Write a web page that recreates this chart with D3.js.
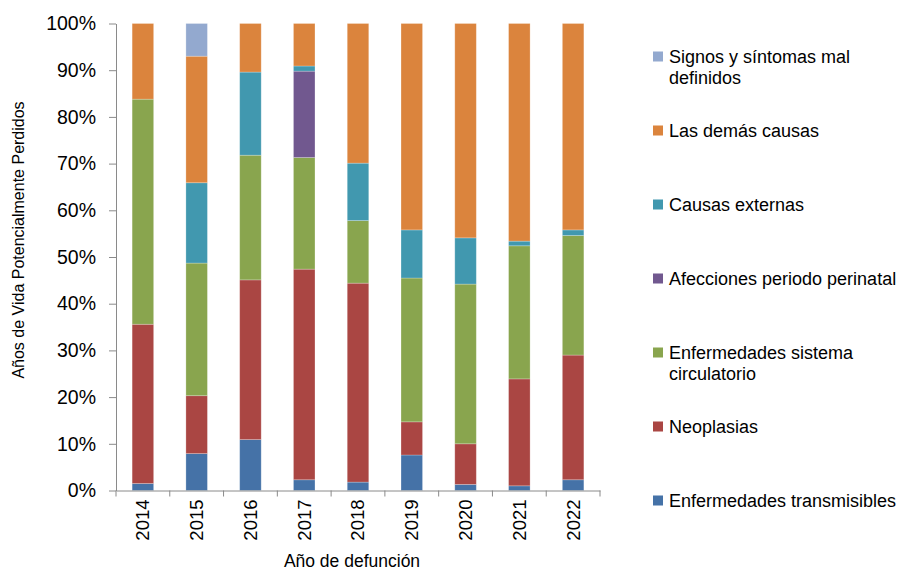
<!DOCTYPE html>
<html>
<head>
<meta charset="utf-8">
<script src="https://cdn.jsdelivr.net/npm/d3@7"></script>
<style>
  html, body { margin: 0; padding: 0; background: #fff; }
  svg { display: block; font-family: "Liberation Sans", Arial, sans-serif; }
</style>
</head>
<body>
<svg id="chart" width="899" height="571"></svg>
<script>
// Años de defunción
const years = ["2014", "2015", "2016", "2017", "2018", "2019", "2020", "2021", "2022"];

// Porcentaje de años de vida potencialmente perdidos por grupo de causas
const transmisibles = [1.5, 7.9, 10.9, 2.3, 1.8, 7.6, 1.3, 1.0, 2.3];
const neoplasias    = [34.1, 12.4, 34.2, 45.1, 42.6, 7.1, 8.7, 22.9, 26.7];
const circulatorio  = [48.2, 28.4, 26.7, 23.9, 13.4, 30.8, 34.2, 28.5, 25.6];
const perinatal     = [0, 0, 0, 18.5, 0, 0, 0, 0, 0];
const externas      = [0, 17.2, 17.8, 1.1, 12.3, 10.3, 9.9, 1.0, 1.2];
const demas         = [16.2, 27.1, 10.4, 9.1, 29.9, 44.2, 45.9, 46.6, 44.2];
const signos        = [0, 7.0, 0, 0, 0, 0, 0, 0, 0];

const yTicks = [0, 10, 20, 30, 40, 50, 60, 70, 80, 90, 100];

// Series, apiladas de abajo hacia arriba
const series = [
  { key: "transmisibles", label: ["Enfermedades transmisibles"], values: transmisibles, color: "#4572A7" },
  { key: "neoplasias", label: ["Neoplasias"], values: neoplasias, color: "#AA4643" },
  { key: "circulatorio", label: ["Enfermedades sistema", "circulatorio"], values: circulatorio, color: "#89A54E" },
  { key: "perinatal", label: ["Afecciones periodo perinatal"], values: perinatal, color: "#71588F" },
  { key: "externas", label: ["Causas externas"], values: externas, color: "#4198AF" },
  { key: "demas", label: ["Las demás causas"], values: demas, color: "#DB843D" },
  { key: "signos", label: ["Signos y síntomas mal", "definidos"], values: signos, color: "#93A9CF" }
];

const rows = years.map((yr, i) => {
  const r = { year: yr };
  series.forEach(s => { r[s.key] = s.values[i]; });
  return r;
});

const svg = d3.select("#chart");
const plot = { left: 116, right: 600, top: 23.5, bottom: 490.5 };
const axisColor = "#8a8a8a";

const x = d3.scaleBand().domain(years).range([plot.left, plot.right])
  .paddingInner(0.6).paddingOuter(0.3);
const y = d3.scaleLinear().domain([0, 100]).range([plot.bottom, plot.top]);

const stack = d3.stack().keys(series.map(s => s.key));
const stacked = stack(rows);

// Barras apiladas
const layers = svg.append("g").selectAll("g")
  .data(stacked)
  .join("g")
  .attr("fill", (d, i) => series[i].color);

layers.selectAll("rect")
  .data(d => d)
  .join("rect")
  .attr("x", d => x(d.data.year))
  .attr("width", x.bandwidth())
  .attr("y", d => y(d[1]))
  .attr("height", d => Math.max(0, y(d[0]) - y(d[1])))
  .attr("stroke", "#ffffff")
  .attr("stroke-opacity", 0.3)
  .attr("stroke-width", 0.8);

// Eje Y
const yAxis = svg.append("g")
  .attr("transform", `translate(${plot.left},0)`)
  .call(d3.axisLeft(y).tickValues(yTicks).tickFormat(d => d + "%")
    .tickSize(7).tickSizeOuter(0).tickPadding(13));
yAxis.select(".domain").attr("stroke", axisColor);
yAxis.selectAll(".tick line").attr("stroke", axisColor);
yAxis.selectAll(".tick text")
  .attr("fill", "#000")
  .style("font-size", "19.5px")
  .style("font-family", "'Liberation Sans', Arial, sans-serif");

// Eje X: línea base y marcas entre categorías
const xAxis = svg.append("g")
  .attr("transform", `translate(0,${plot.bottom})`)
  .call(d3.axisBottom(x).tickSize(0).tickSizeOuter(0).tickPadding(0));
xAxis.select(".domain").attr("stroke", axisColor);
xAxis.selectAll(".tick text")
  .attr("fill", "#000")
  .style("font-size", "18.5px")
  .style("font-family", "'Liberation Sans', Arial, sans-serif")
  .attr("text-anchor", "end")
  .attr("transform", "rotate(-90)")
  .attr("x", -9)
  .attr("y", 0)
  .attr("dy", "0.35em");

const boundaries = years.map(yr => x(yr) - x.step() * x.paddingOuter());
boundaries.push(plot.right);
svg.append("g").selectAll("line")
  .data(boundaries)
  .join("line")
  .attr("x1", d => d).attr("x2", d => d)
  .attr("y1", plot.bottom).attr("y2", plot.bottom + 6)
  .attr("stroke", axisColor);

// Títulos de ejes
svg.append("text")
  .attr("transform", "translate(24,240) rotate(-90)")
  .attr("text-anchor", "middle")
  .style("font-size", "16px")
  .text("Años de Vida Potencialmente Perdidos");

svg.append("text")
  .attr("x", 352)
  .attr("y", 567)
  .attr("text-anchor", "middle")
  .style("font-size", "17.5px")
  .text("Año de defunción");

// Leyenda (orden inverso al apilado)
const legendItems = series.slice().reverse();
const legend = svg.append("g").selectAll("g")
  .data(legendItems)
  .join("g")
  .attr("transform", (d, i) => `translate(653,${62.5 + i * 74})`);

legend.append("rect")
  .attr("x", 0).attr("y", -11)
  .attr("width", 10).attr("height", 10)
  .attr("fill", d => d.color);

legend.append("text")
  .attr("x", 16)
  .style("font-size", "18px")
  .selectAll("tspan")
  .data(d => d.label)
  .join("tspan")
  .attr("x", 16)
  .attr("dy", (d, i) => i === 0 ? 0 : 21)
  .text(d => d);
</script>
</body>
</html>
